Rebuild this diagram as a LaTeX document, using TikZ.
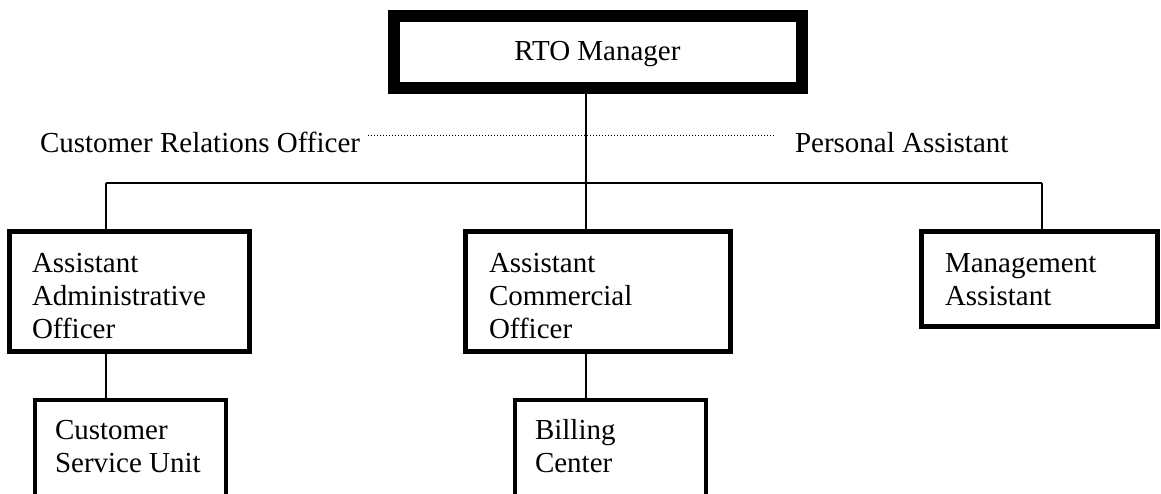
\documentclass[tikz,border=0pt]{standalone}
\usepackage{fontspec}
\setmainfont{Liberation Serif}
\begin{document}
\begin{tikzpicture}[x=1pt, y=-1pt,
  font=\fontsize{29}{33}\selectfont,
  boxbase/.style={draw=black, rectangle, inner sep=0pt, outer sep=0pt},
  headbox/.style={boxbase, line width=12pt},
  officebox/.style={boxbase, line width=5pt},
  unitbox/.style={boxbase, line width=4pt},
  label/.style={inner sep=0pt, outer sep=0pt},
  link/.style={draw=black, line width=1.5pt},
  dotlink/.style={draw=black, line width=1pt, dash pattern=on 1pt off 2pt}
]
\clip (0,0) rectangle (1161,493);

% boxes
\node[headbox, minimum width=408pt, minimum height=71.5pt] (top) at (598,51.75) {};
\node[officebox, minimum width=240pt, minimum height=120pt] (aao) at (129.5,291.5) {};
\node[officebox, minimum width=265pt, minimum height=120pt] (aco) at (598,291.5) {};
\node[officebox, minimum width=236pt, minimum height=95pt] (ma) at (1039.5,279) {};
\node[unitbox, minimum width=191pt, minimum height=160pt] (csu) at (130.5,480) {};
\node[unitbox, minimum width=191pt, minimum height=160pt] (bc) at (610.5,480) {};

% texts
\node[label, anchor=base] (toptxt) at (597.5,60) {RTO Manager};
\node[label, anchor=base west] (cro) at (40,152) {Customer Relations Officer};
\node[label, anchor=base west] (pa) at (795,152) {Personal Assistant};
\node[label, anchor=base west] (aaotxt) at (32,272)
  {\begin{tabular}[t]{@{}l@{}}Assistant\\Administrative\\Officer\end{tabular}};
\node[label, anchor=base west] (acotxt) at (489,272)
  {\begin{tabular}[t]{@{}l@{}}Assistant\\Commercial\\Officer\end{tabular}};
\node[label, anchor=base west] (matxt) at (945,272)
  {\begin{tabular}[t]{@{}l@{}}Management\\Assistant\end{tabular}};
\node[label, anchor=base west] (csutxt) at (55,439)
  {\begin{tabular}[t]{@{}l@{}}Customer\\Service Unit\end{tabular}};
\node[label, anchor=base west] (bctxt) at (535,439)
  {\begin{tabular}[t]{@{}l@{}}Billing\\Center\end{tabular}};

% connector points
\coordinate (busL) at (106,183);
\coordinate (trunk) at (586,183);
\coordinate (busR) at (1042,183);
\coordinate (dotL) at (368,135);
\coordinate (dotR) at (775,135);

% staff line
\draw[dotlink] (dotL) -- (dotR);

% reporting lines
\draw[link] (trunk |- top.south) -- (trunk);
\draw[link] (busL) -- (busR);
\draw[link] (busL) -- (busL |- aao.north);
\draw[link] (trunk) -- (trunk |- aco.north);
\draw[link] (busR) -- (busR |- ma.north);
\draw[link] (busL |- aao.south) -- (busL |- csu.north);
\draw[link] (trunk |- aco.south) -- (trunk |- bc.north);
\end{tikzpicture}
\end{document}
